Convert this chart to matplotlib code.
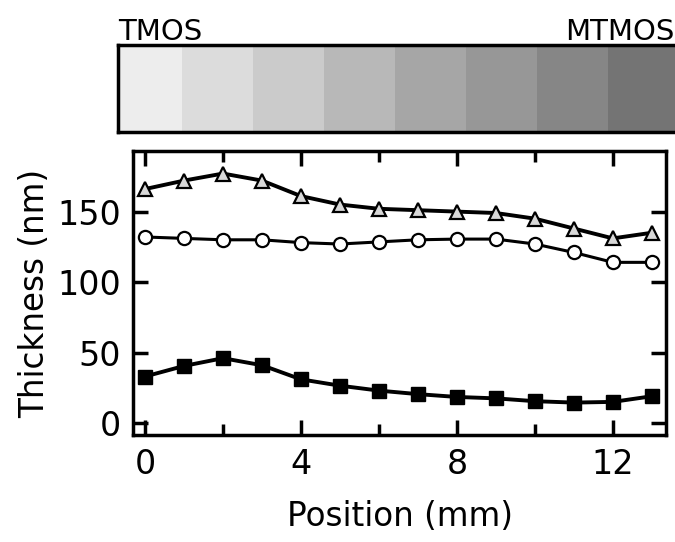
import matplotlib.pyplot as plt
from matplotlib.patches import Rectangle
from matplotlib.ticker import MultipleLocator

# positions along the film (mm)
position = list(range(14))

# film thickness (nm) for the three samples
thick_tri = [166, 172, 177, 172, 161, 155, 152, 151, 150, 149, 145, 138, 131, 135]
thick_circ = [132, 131, 130, 130, 128, 127, 128.5, 130, 130.5, 130.5, 127, 121, 114, 114]
thick_sq = [33, 40.5, 46, 41, 31, 26.5, 23, 20.5, 18.5, 17.5, 15.5, 14.5, 15, 19]

# gray steps of the composition bar
bar_grays = ['#ededed', '#dcdcdc', '#cbcbcb', '#b8b8b8', '#a6a6a6',
             '#979797', '#868686', '#747474', '#666666']

plt.rcParams['font.family'] = ['DejaVu Sans']

fig = plt.figure(figsize=(6.75, 5.42), dpi=100)

# composition bar on top
axb = fig.add_axes([0.1748, 0.7565, 0.8836, 0.1605])
for i, g in enumerate(bar_grays):
    axb.add_patch(Rectangle((i, 0), 1, 1, facecolor=g, edgecolor='none'))
axb.set_xlim(0.1, 8.5)
axb.set_ylim(0, 1)
axb.set_xticks([])
axb.set_yticks([])
for sp in axb.spines.values():
    sp.set_linewidth(2.5)

fig.text(0.1748, 0.926, 'TMOS', fontsize=21, ha='left', va='baseline')
fig.text(0.999, 0.926, 'MTMOS', fontsize=21, ha='right', va='baseline')

# thickness profile
ax = fig.add_axes([0.1975, 0.1974, 0.789, 0.524])
ax.plot(position, thick_tri, '-', color='black', lw=2.8, marker='^', ms=10,
        mfc='#d8d8d8', mec='black', mew=1.6)
ax.plot(position, thick_circ, '-', color='black', lw=2.2, marker='o', ms=9.5,
        mfc='white', mec='black', mew=1.6)
ax.plot(position, thick_sq, '-', color='black', lw=2.8, marker='s', ms=10,
        mfc='black', mec='black')

ax.set_xlim(-0.3, 13.36)
ax.set_ylim(-8.5, 193)
ax.xaxis.set_major_locator(MultipleLocator(4))
ax.xaxis.set_minor_locator(MultipleLocator(2))
ax.yaxis.set_major_locator(MultipleLocator(50))
ax.tick_params(which='both', direction='in', top=True, right=True, width=2.5,
               labelsize=24)
ax.tick_params(which='major', length=11, pad=9)
ax.tick_params(which='minor', length=8)
for sp in ax.spines.values():
    sp.set_linewidth(2.5)

ax.set_xlabel('Position (mm)', fontsize=23.5, labelpad=14)
ax.set_ylabel('Thickness (nm)', fontsize=23.5, labelpad=4)

fig.savefig('out.png', dpi=100)
